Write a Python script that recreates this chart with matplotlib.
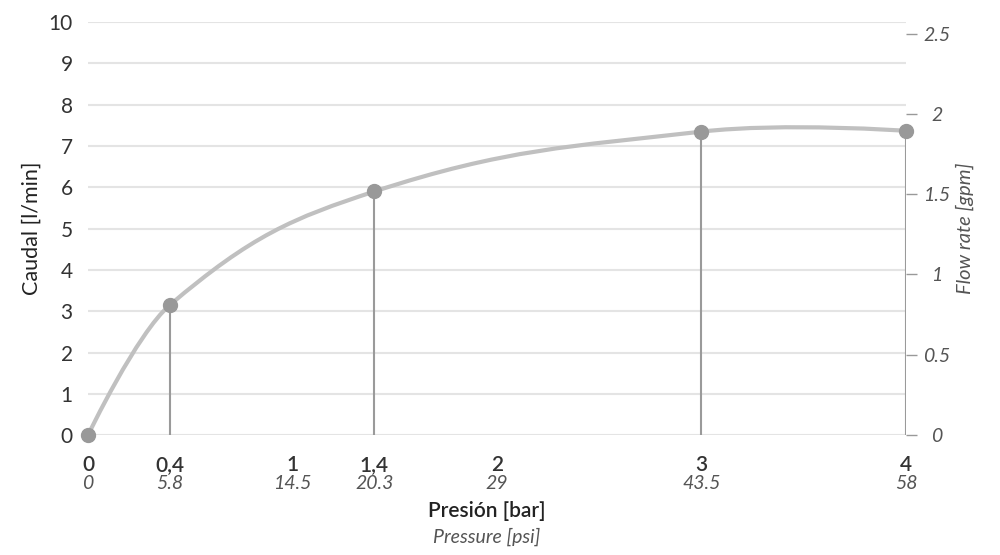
import matplotlib.pyplot as plt
from matplotlib.path import Path
from matplotlib.patches import PathPatch

# data
pressure_bar = [0, 0.4, 1.4, 3, 4]
flow_lpm = [0, 3.15, 5.9, 7.35, 7.37]
bar_ticks = [0, 0.4, 1, 1.4, 2, 3, 4]
bar_labels = ['0', '0,4', '1', '1,4', '2', '3', '4']
psi_labels = ['0', '5.8', '14.5', '20.3', '29', '43.5', '58']
gpm_ticks = [0, 0.5, 1, 1.5, 2, 2.5]
lpm_per_gpm = 3.89


def spline_path(xs, ys, smooth=1.5):
    # bezier spline like the web chart libs do it
    n = len(xs)
    left = [(x, y) for x, y in zip(xs, ys)]
    right = [(x, y) for x, y in zip(xs, ys)]
    for i in range(1, n - 1):
        d = smooth + 1
        lx = (smooth * xs[i] + xs[i - 1]) / d
        ly = (smooth * ys[i] + ys[i - 1]) / d
        rx = (smooth * xs[i] + xs[i + 1]) / d
        ry = (smooth * ys[i] + ys[i + 1]) / d
        corr = (ry - ly) * (rx - xs[i]) / (rx - lx) + ys[i] - ry
        left[i] = (lx, ly + corr)
        right[i] = (rx, ry + corr)
    verts = [(xs[0], ys[0])]
    codes = [Path.MOVETO]
    for i in range(1, n):
        verts += [right[i - 1], left[i], (xs[i], ys[i])]
        codes += [Path.CURVE4] * 3
    return Path(verts, codes)


plt.rcParams['font.family'] = ['Lato', 'DejaVu Sans']

fig = plt.figure(figsize=(10, 5.55), dpi=100)
ax = fig.add_axes([0.088, 0.216, 0.818, 0.744])

# grid
for v in range(0, 11):
    ax.axhline(v, color='#e4e4e4', lw=1.5, zorder=0)

# drop lines
ax.vlines(pressure_bar[1:], 0, flow_lpm[1:], color='#9a9a9a', lw=1.5, zorder=1)

ax.add_patch(PathPatch(spline_path(pressure_bar, flow_lpm), fill=False,
                       edgecolor='#c0c0c0', lw=3, zorder=2, clip_on=False))
ax.plot(pressure_bar, flow_lpm, 'o', color='#999999', ms=10, zorder=3, clip_on=False)

ax.set_xlim(0, 4)
ax.set_ylim(0, 10)
ax.set_yticks(range(0, 11))
ax.tick_params(axis='y', length=0, pad=11, labelsize=15, labelcolor='#333333')
ax.set_xticks(bar_ticks)
ax.set_xticklabels(bar_labels, fontweight='semibold')
ax.tick_params(axis='x', length=0, pad=14, labelsize=15, labelcolor='#333333')
for s in ax.spines.values():
    s.set_visible(False)

# psi labels under bar labels
for xv, lab in zip(bar_ticks, psi_labels):
    ax.text(xv, -0.118, lab, transform=ax.get_xaxis_transform(), ha='center', va='center',
            fontsize=14, style='italic', color='#555555')

ax.set_ylabel('Caudal [l/min]', fontsize=15.5, color='#222222', labelpad=5)
fig.text(0.487, 0.079, 'Presión [bar]', ha='center', va='center', fontsize=15,
         fontweight='semibold', color='#222222')
fig.text(0.487, 0.032, 'Pressure [psi]', ha='center', va='center', fontsize=14,
         style='italic', color='#555555')

# right axis in gpm
ax2 = ax.twinx()
ax2.set_ylim(0, 10 / lpm_per_gpm)
ax2.set_yticks(gpm_ticks)
ax2.set_yticklabels([f'{t:g}' for t in gpm_ticks])
ax2.tick_params(axis='y', length=8, width=1, color='#999999', pad=14, labelsize=14,
                labelcolor='#555555')
for lab in ax2.get_yticklabels():
    lab.set_fontstyle('italic')
    lab.set_horizontalalignment('center')
for s in ax2.spines.values():
    s.set_visible(False)
ax2.set_ylabel('Flow rate [gpm]', fontsize=14.5, style='italic', color='#555555', labelpad=4)

fig.savefig('out.png', dpi=100)
